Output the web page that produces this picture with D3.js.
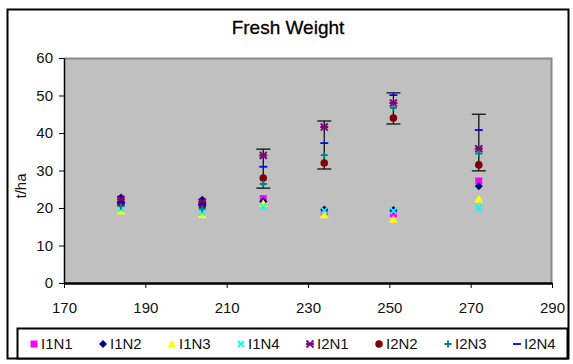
<!DOCTYPE html>
<html>
<head>
<meta charset="utf-8">
<script src="https://cdn.jsdelivr.net/npm/d3@7"></script>
<style>
  body { margin: 0; background: #fff; }
  text { font-family: "Liberation Sans", Arial, sans-serif; }
</style>
</head>
<body>
<div id="chart-area"></div>
<script>
// days after sowing
var xValues = [184, 204, 219, 234, 251, 272];

var seriesNames = ["I1N1", "I1N2", "I1N3", "I1N4", "I2N1", "I2N2", "I2N3", "I2N4"];
var I1N1 = [21.5, 21.0, 22.5, 19.0, 18.5, 27.2];
var I1N2 = [22.8, 22.2, 21.8, 19.6, 19.5, 25.8];
var I1N3 = [19.2, 18.3, 21.3, 18.2, 17.0, 22.4];
var I1N4 = [19.8, 18.8, 20.3, 19.3, 19.2, 20.0];
var I2N1 = [22.3, 21.6, 34.0, 41.6, 48.0, 35.8];
var I2N2 = [21.2, 20.7, 28.0, 32.0, 44.0, 31.5];
var I2N3 = [20.5, 19.8, 26.4, 34.1, 46.7, 34.5];
var I2N4 = [21.5, 21.0, 31.0, 37.3, 50.1, 40.8];

// error bar ends (I2 group)
var errLow  = [null, null, 25.3, 30.4, 42.4, 29.9];
var errHigh = [null, null, 35.7, 43.2, 50.7, 45.0];

var xTicks = [170, 190, 210, 230, 250, 270, 290];
var yTicks = [0, 10, 20, 30, 40, 50, 60];

var seriesValues = [I1N1, I1N2, I1N3, I1N4, I2N1, I2N2, I2N3, I2N4];
var colors = ["#ff00ff", "#000080", "#ffff00", "#00ffff", "#800080", "#800000", "#008080", "#0000ff"];
var shapes = ["square", "diamond", "triangle", "x", "star", "circle", "plus", "dash"];

var W = 573, H = 364;
var margin = { left: 64, right: 21, top: 58, bottom: 81 };
var width = W - margin.left - margin.right,
    height = H - margin.top - margin.bottom;

var svg = d3.select("#chart-area")
    .append("svg")
        .attr("width", W)
        .attr("height", H);

// outer frame
svg.append("rect")
    .attr("x", 7.5).attr("y", 9.5)
    .attr("width", 561).attr("height", 349)
    .attr("fill", "#fff")
    .attr("stroke", "#000")
    .attr("stroke-width", 2);

svg.append("text")
    .attr("x", 288)
    .attr("y", 34)
    .attr("text-anchor", "middle")
    .attr("font-size", "19px")
    .attr("fill", "#000")
    .attr("stroke", "#000")
    .attr("stroke-width", 0.3)
    .text("Fresh Weight");

var g = svg.append("g")
    .attr("transform", "translate(" + margin.left + ", " + margin.top + ")");

var xScale = d3.scaleLinear().domain([170, 290]).range([0, width]);
var yScale = d3.scaleLinear().domain([0, 60]).range([height, 0]);

// plot area
g.append("rect")
    .attr("width", width).attr("height", height)
    .attr("fill", "#c0c0c0");
g.append("path")
    .attr("d", "M0,0.5H" + (width - 0.5) + "V" + height)
    .attr("fill", "none")
    .attr("stroke", "#8a8a8a")
    .attr("stroke-width", 2);

var xAxisCall = d3.axisBottom(xScale)
    .tickValues(xTicks)
    .tickSize(5)
    .tickSizeOuter(0)
    .tickPadding(14);
var xAxis = g.append("g")
    .attr("class", "x axis")
    .attr("transform", "translate(0, " + height + ")")
    .call(xAxisCall);
xAxis.select(".domain").attr("stroke-width", 2.5);
xAxis.selectAll("text").attr("font-size", "15px").attr("fill", "#111");

var yAxisCall = d3.axisLeft(yScale)
    .tickValues(yTicks)
    .tickSize(5)
    .tickSizeOuter(0)
    .tickPadding(6);
var yAxis = g.append("g")
    .attr("class", "y axis")
    .call(yAxisCall);
yAxis.selectAll("text").attr("font-size", "15px").attr("fill", "#111");
yAxis.select(".domain").attr("stroke-width", 1.5);

g.append("text")
    .attr("x", -128)
    .attr("y", -38)
    .attr("font-size", "15px")
    .attr("text-anchor", "middle")
    .attr("transform", "rotate(-90)")
    .attr("fill", "#111")
    .text("t/ha");

function markerPath(shape) {
    switch (shape) {
        case "square": return "M-3.5,-3.5h7v7h-7z";
        case "diamond": return "M0,-4L4,0L0,4L-4,0z";
        case "triangle": return "M0,-4L4.5,3.5H-4.5z";
        case "x": return "M-3,-3L3,3M3,-3L-3,3";
        case "star": return "M-3.5,-3.5L3.5,3.5M3.5,-3.5L-3.5,3.5M-4,0H4";
        case "circle": return d3.symbol(d3.symbolCircle, 45)();
        case "plus": return "M-3.5,0H3.5M0,-3.5V3.5";
        case "dash": return "M-4,0H4";
    }
}
function isFilled(shape) {
    return shape === "square" || shape === "diamond" || shape === "triangle" || shape === "circle";
}

// error bars
var errData = xValues.map(function(x, i) {
    return { x: x, lo: errLow[i], hi: errHigh[i] };
}).filter(function(d) { return d.lo !== null; });

var eb = g.selectAll(".err")
    .data(errData)
    .enter().append("g")
    .attr("class", "err")
    .attr("stroke", "#111")
    .attr("stroke-width", 1.3);
eb.append("line")
    .attr("x1", function(d) { return xScale(d.x); })
    .attr("x2", function(d) { return xScale(d.x); })
    .attr("y1", function(d) { return yScale(d.lo); })
    .attr("y2", function(d) { return yScale(d.hi); });
eb.append("line")
    .attr("x1", function(d) { return xScale(d.x) - 7; })
    .attr("x2", function(d) { return xScale(d.x) + 7; })
    .attr("y1", function(d) { return yScale(d.lo); })
    .attr("y2", function(d) { return yScale(d.lo); });
eb.append("line")
    .attr("x1", function(d) { return xScale(d.x) - 7; })
    .attr("x2", function(d) { return xScale(d.x) + 7; })
    .attr("y1", function(d) { return yScale(d.hi); })
    .attr("y2", function(d) { return yScale(d.hi); });

// points
seriesValues.forEach(function(vals, s) {
    g.selectAll(".pt" + s)
        .data(vals)
        .enter().append("path")
        .attr("class", "pt" + s)
        .attr("transform", function(d, i) {
            return "translate(" + xScale(xValues[i]) + "," + yScale(d) + ")";
        })
        .attr("d", markerPath(shapes[s]))
        .attr("fill", isFilled(shapes[s]) ? colors[s] : "none")
        .attr("stroke", colors[s])
        .attr("stroke-width", isFilled(shapes[s]) ? 0 : 1.8);
});

// legend
svg.append("rect")
    .attr("x", 17.5).attr("y", 328.5)
    .attr("width", 550).attr("height", 30)
    .attr("fill", "#fff")
    .attr("stroke", "#000")
    .attr("stroke-width", 2);

var legendX = d3.scalePoint().domain(seriesNames).range([34, 517]);
var legend = svg.selectAll(".legend")
    .data(seriesNames)
    .enter().append("g")
    .attr("class", "legend")
    .attr("transform", function(d) { return "translate(" + legendX(d) + ",344)"; });
legend.append("path")
    .attr("d", function(d, i) { return markerPath(shapes[i]); })
    .attr("fill", function(d, i) { return isFilled(shapes[i]) ? colors[i] : "none"; })
    .attr("stroke", function(d, i) { return colors[i]; })
    .attr("stroke-width", function(d, i) { return isFilled(shapes[i]) ? 0 : 1.8; });
legend.append("text")
    .attr("x", 7)
    .attr("y", 5)
    .attr("font-size", "15px")
    .attr("fill", "#111")
    .text(function(d) { return d; });
</script>
</body>
</html>
